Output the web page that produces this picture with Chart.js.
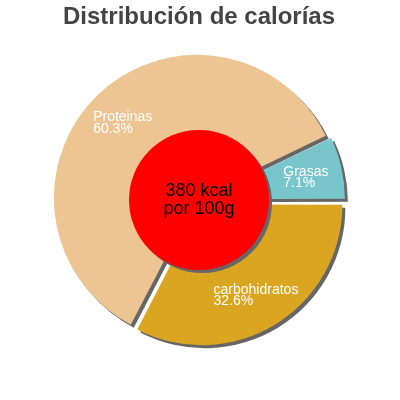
<!DOCTYPE html>
<html>
<head>
<meta charset="utf-8">
<script src="https://cdn.jsdelivr.net/npm/chart.js@4.4.0/dist/chart.umd.min.js"></script>
<style>
  html, body { margin: 0; background: #fff; }
  #wrap { width: 400px; height: 400px; }
</style>
</head>
<body>
<div id="wrap"><canvas id="pie"></canvas></div>
<script>
// Data
const categories = ["carbohidratos", "Proteinas", "Grasas"];
const percents = [32.6, 60.3, 7.1];
const sliceColors = ["#daa520", "#edc592", "#78c5cc"];
const centerLines = ["380 kcal", "por 100g"];
const titleText = "Distribución de calorías";

const FONT = "'Liberation Sans', Arial, sans-serif";
const EXPLODE = 6; // px each slice is pushed out

// Chart.js moves an arc by offset/4 * (1 + fix), fix = 1 - sin(min(PI, sweep));
// work back the offset that gives the same push for every slice
const total = percents.reduce((a, b) => a + b, 0);
const sliceOffsets = percents.map((p) => {
  const sweep = (p / total) * Math.PI * 2;
  const fix = 1 - Math.sin(Math.min(Math.PI, sweep));
  return (EXPLODE * 4) / (1 + fix);
});

// grey drop shadow under the slices, then the red disc and the texts on top
const decorations = {
  id: "decorations",
  beforeDatasetsDraw(chart) {
    const ctx = chart.ctx;
    ctx.save();
    ctx.shadowColor = "#666";
    ctx.shadowOffsetX = 3;
    ctx.shadowOffsetY = 3;
    ctx.shadowBlur = 0;
  },
  afterDatasetsDraw(chart) {
    const ctx = chart.ctx;
    ctx.restore();
    const arcs = chart.getDatasetMeta(0).data;
    const cx = arcs[0].x, cy = arcs[0].y, r = arcs[0].outerRadius;

    ctx.save();
    ctx.shadowColor = "#666";
    ctx.shadowOffsetX = 3;
    ctx.shadowOffsetY = 3;
    ctx.fillStyle = "#ff0000";
    ctx.beginPath();
    ctx.arc(cx, cy, r * 0.5, 0, Math.PI * 2);
    ctx.fill();
    ctx.restore();

    ctx.save();
    ctx.fillStyle = "#000";
    ctx.font = "18px " + FONT;
    ctx.textAlign = "center";
    ctx.textBaseline = "alphabetic";
    ctx.fillText(centerLines[0], cx, cy - 4);
    ctx.fillText(centerLines[1], cx, cy + 14);

    // slice labels: block centred at 0.74 R along each slice's mid angle
    ctx.fillStyle = "#fff";
    ctx.font = "14px " + FONT;
    ctx.textAlign = "left";
    arcs.forEach((arc, i) => {
      const mid = (arc.startAngle + arc.endAngle) / 2;
      const d = EXPLODE + r * 0.74;
      const ax = cx + Math.cos(mid) * d;
      const ay = cy + Math.sin(mid) * d;
      const l1 = categories[i];
      const l2 = percents[i].toFixed(1) + "%";
      const w = Math.max(ctx.measureText(l1).width, ctx.measureText(l2).width);
      ctx.fillText(l1, ax - w / 2, ay);
      ctx.fillText(l2, ax - w / 2, ay + 11.5);
    });
    ctx.restore();
  }
};

new Chart(document.getElementById("pie"), {
  type: "pie",
  data: {
    labels: categories,
    datasets: [{
      data: percents,
      backgroundColor: sliceColors,
      borderWidth: 0,
      offset: sliceOffsets,
      hoverOffset: 0
    }]
  },
  options: {
    responsive: true,
    maintainAspectRatio: false,
    animation: false,
    events: [],
    rotation: 90,
    radius: 140,
    layout: { padding: { top: 0, bottom: 31.3, left: 0, right: 2 } },
    plugins: {
      legend: { display: false },
      tooltip: { enabled: false },
      title: {
        display: true,
        text: titleText,
        color: "#444",
        font: { family: FONT, size: 24, weight: "bold", lineHeight: 1.2 },
        padding: { top: 2.5, bottom: 0 }
      }
    }
  },
  plugins: [decorations]
});
</script>
</body>
</html>
